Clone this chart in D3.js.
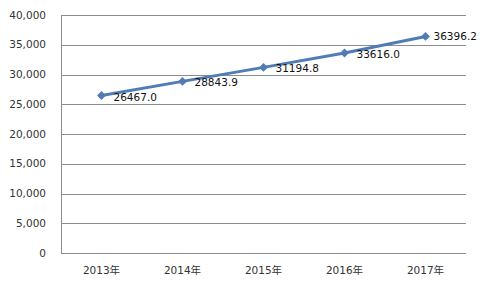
<!DOCTYPE html>
<html>
<head>
<meta charset="utf-8">
<script src="https://d3js.org/d3.v7.min.js"></script>
<style>
  body { margin: 0; background: #fff; }
  text { font-family: "DejaVu Sans", "Noto Sans CJK SC", sans-serif; }
</style>
</head>
<body>
<div id="chart"></div>
<script>
var years = ["2013年", "2014年", "2015年", "2016年", "2017年"];
var values = [26467.0, 28843.9, 31194.8, 33616.0, 36396.2];
var yTicks = [0, 5000, 10000, 15000, 20000, 25000, 30000, 35000, 40000];

var width = 480, height = 288;
var margin = { top: 15, right: 14, bottom: 35, left: 61 };

var svg = d3.select("#chart").append("svg")
  .attr("width", width)
  .attr("height", height);

var x = d3.scaleBand()
  .domain(years)
  .range([margin.left, width - margin.right]);

var y = d3.scaleLinear()
  .domain([0, 40000])
  .range([height - margin.bottom, margin.top]);

// gridlines
svg.append("g")
  .selectAll("line")
  .data(yTicks)
  .enter().append("line")
  .attr("x1", margin.left)
  .attr("x2", width - margin.right)
  .attr("y1", function(d) { return Math.round(y(d)) + 0.5; })
  .attr("y2", function(d) { return Math.round(y(d)) + 0.5; })
  .attr("stroke", "#8c8c8c")
  .attr("stroke-width", 1);

// y axis line
svg.append("line")
  .attr("x1", margin.left + 0.5)
  .attr("x2", margin.left + 0.5)
  .attr("y1", y(40000))
  .attr("y2", y(0))
  .attr("stroke", "#8c8c8c");

// y labels
svg.append("g")
  .selectAll("text")
  .data(yTicks)
  .enter().append("text")
  .attr("x", margin.left - 15)
  .attr("y", function(d) { return y(d); })
  .attr("dy", "0.35em")
  .attr("text-anchor", "end")
  .attr("font-size", 10.5)
  .attr("fill", "#333")
  .text(function(d) { return d3.format(",")(d); });

// x labels
svg.append("g")
  .selectAll("text")
  .data(years)
  .enter().append("text")
  .attr("x", function(d) { return x(d) + x.bandwidth() / 2; })
  .attr("y", height - margin.bottom + 21)
  .attr("text-anchor", "middle")
  .attr("font-size", 10.5)
  .attr("fill", "#333")
  .text(function(d) { return d; });

var line = d3.line()
  .x(function(d, i) { return x(years[i]) + x.bandwidth() / 2; })
  .y(function(d) { return y(d); });

svg.append("path")
  .datum(values)
  .attr("d", line)
  .attr("fill", "none")
  .attr("stroke", "#4f7cb4")
  .attr("stroke-width", 3);

// diamond markers
svg.append("g")
  .selectAll("path")
  .data(values)
  .enter().append("path")
  .attr("transform", function(d, i) {
    return "translate(" + (x(years[i]) + x.bandwidth() / 2) + "," + y(d) + ")";
  })
  .attr("d", d3.symbol().type(d3.symbolDiamond2).size(50))
  .attr("fill", "#4f7cb4");

// data labels (the last one is nudged in so it fits the frame)
var last = values.length - 1;
svg.append("g")
  .selectAll("text")
  .data(values)
  .enter().append("text")
  .attr("x", function(d, i) { return x(years[i]) + x.bandwidth() / 2 + (i == last ? 8 : 12); })
  .attr("y", function(d, i) { return y(d) + (i == last ? 4 : 5); })
  .attr("font-size", 10.5)
  .attr("fill", "#111")
  .text(function(d) { return d.toFixed(1); });
</script>
</body>
</html>
